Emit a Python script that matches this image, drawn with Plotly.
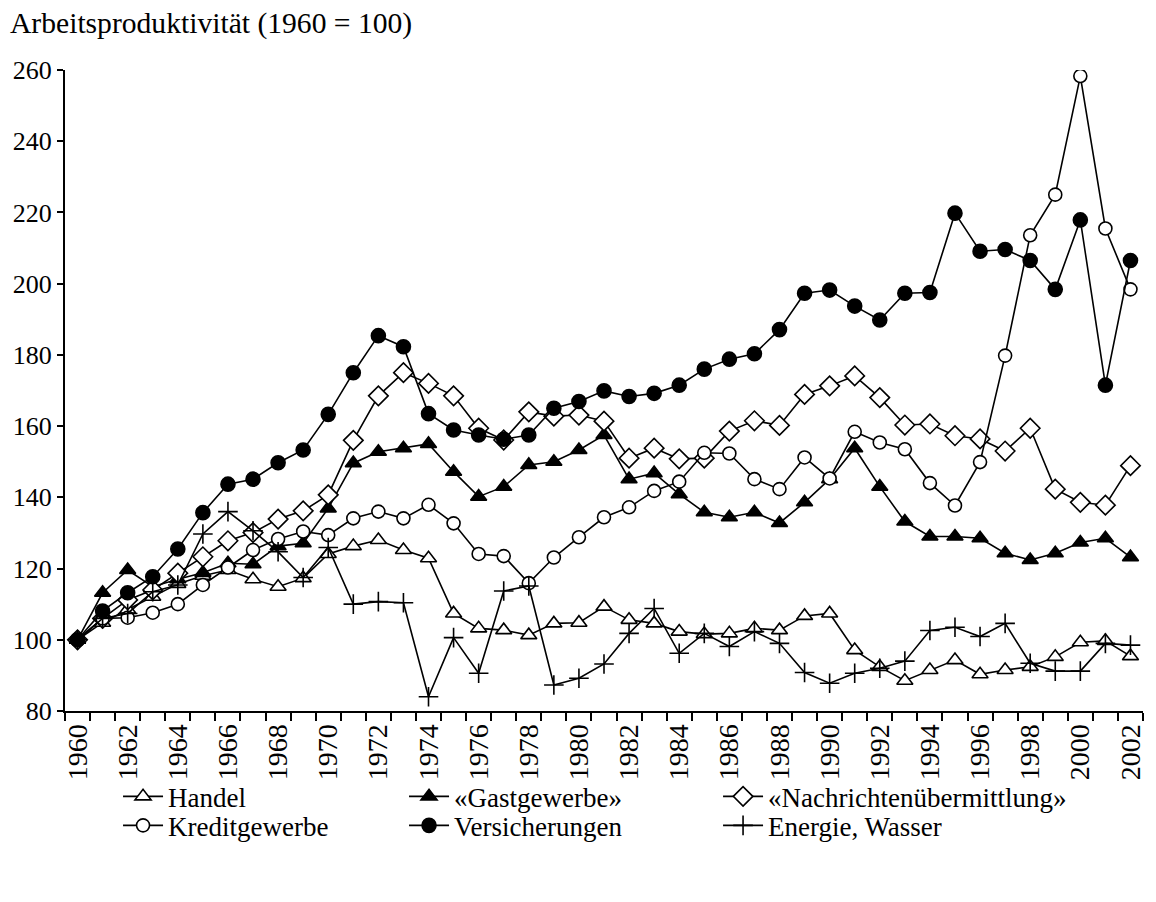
import plotly.graph_objects as go

# =========================
# Data
# =========================
years = list(range(1960, 2003))

handel = [100, 104.8, 108.5, 112.1, 115.7, 118.0, 119.6, 117.0, 114.9, 117.3,
          124.1, 126.3, 128.0, 125.2, 122.9, 107.4, 103.2, 102.7, 101.3, 104.6,
          104.8, 109.3, 105.6, 104.6, 102.3, 101.6, 101.8, 103.2, 102.7, 106.7,
          107.4, 97.1, 92.4, 88.5, 91.5, 94.3, 90.3, 91.5, 92.4, 95.2,
          99.3, 99.7, 95.4]

gastgewerbe = [100, 113.2, 119.6, 114.9, 117.0, 118.8, 121.5, 121.2, 126.3, 127.1,
               136.9, 149.6, 152.8, 153.8, 155.0, 147.2, 140.2, 143.0, 149.1, 150.0,
               153.3, 157.5, 145.1, 146.8, 140.9, 135.8, 134.4, 135.8, 132.8, 138.6,
               145.1, 153.8, 143.0, 133.2, 129.0, 129.0, 128.5, 124.3, 122.4, 124.3,
               127.3, 128.5, 123.2]

nachrichten = [100, 106.0, 111.2, 114.0, 118.7, 123.3, 127.8, 130.1, 133.9, 136.2,
               140.7, 156.0, 168.5, 175.0, 172.0, 168.5, 159.4, 156.1, 164.0, 162.8,
               163.1, 161.4, 151.0, 153.8, 150.8, 151.0, 158.6, 161.5, 160.2, 168.9,
               171.3, 174.1, 168.0, 160.3, 160.6, 157.3, 156.4, 153.0, 159.4, 142.3,
               138.6, 137.8, 148.9]

kredit = [100, 106.0, 106.2, 107.6, 110.0, 115.4, 120.3, 125.2, 128.3, 130.4,
          129.4, 134.1, 136.0, 134.1, 137.9, 132.7, 124.1, 123.5, 115.9, 123.1,
          128.8, 134.4, 137.2, 141.8, 144.4, 152.5, 152.3, 145.1, 142.3, 151.2,
          145.3, 158.4, 155.4, 153.5, 144.0, 137.7, 149.9, 179.8, 213.6, 225.0,
          258.3, 215.5, 198.4]

versicherungen = [100, 108.1, 113.2, 117.7, 125.5, 135.7, 143.7, 145.1, 149.7, 153.3,
                  163.3, 175.0, 185.4, 182.3, 163.5, 158.9, 157.5, 156.3, 157.5, 165.0,
                  166.9, 169.9, 168.3, 169.2, 171.5, 176.0, 178.8, 180.3, 187.1, 197.3,
                  198.2, 193.7, 189.8, 197.3, 197.5, 219.8, 209.1, 209.6, 206.5, 198.4,
                  217.9, 171.5, 206.5]

energie = [100, 106.0, 107.4, 113.5, 115.4, 129.7, 136.0, 130.6, 124.7, 117.5,
           125.9, 110.0, 110.7, 110.4, 84.0, 100.6, 90.6, 113.7, 115.1, 87.3,
           89.2, 93.2, 101.8, 108.8, 96.2, 101.8, 98.1, 102.3, 99.0, 90.8,
           87.8, 90.6, 92.0, 94.0, 102.6, 103.5, 100.9, 104.6, 93.4, 91.2,
           91.2, 99.0, 98.5]

tick_years = list(range(1960, 2003, 2))

# =========================
# Series styles: (name, values, symbol, fill, size, legend row, legend column)
# =========================
series = [
    ("Handel", handel, "triangle-up", "white", 14, "legend", 0),
    ("«Gastgewerbe»", gastgewerbe, "triangle-up", "black", 14, "legend", 1),
    ("«Nachrichtenübermittlung»", nachrichten, "diamond", "white", 15, "legend", 2),
    ("Kreditgewerbe", kredit, "circle", "white", 13, "legend2", 0),
    ("Versicherungen", versicherungen, "circle", "black", 14, "legend2", 1),
    ("Energie, Wasser", energie, "cross-thin", "black", 14, "legend2", 2),
]

# legend column widths as fraction of plot width
col_widths = [0.2653, 0.2913, 0.33]

fig = go.Figure()

for name, vals, symbol, fill, size, leg, col in series:
    fig.add_trace(go.Scatter(
        x=years,
        y=vals,
        name=name,
        mode="lines+markers",
        line=dict(color="black", width=1.6),
        marker=dict(symbol=symbol, size=size, color=fill,
                    line=dict(color="black", width=1.6)),
        legend=leg,
        legendwidth=col_widths[col],
    ))

# =========================
# Layout
# (page body adds 8px margin, so the figure is shifted by 8px and
#  sized to fit the window without scrolling)
# =========================
serif = "Liberation Serif"
W = 1140
H = 886


def legend_row(y):
    return dict(
        orientation="h",
        x=0.0492, xanchor="left",
        y=y, yanchor="top",
        entrywidthmode="fraction",
        bgcolor="rgba(0,0,0,0)",
        font=dict(family=serif, size=27, color="black"),
        itemwidth=40,
    )


fig.update_layout(
    width=W,
    height=H,
    paper_bgcolor="white",
    plot_bgcolor="white",
    font=dict(family=serif, size=27, color="black"),
    margin=dict(l=57, r=5, t=62, b=H - 703, autoexpand=False),
    title=dict(
        text="Arbeitsproduktivität (1960 = 100)",
        xref="container", yref="container",
        x=2 / W, xanchor="left",
        y=1 - 15 / H, yanchor="middle",
        font=dict(family=serif, size=29.6, color="black"),
    ),
    legend=legend_row(-0.0956),
    legend2=legend_row(-0.1409),
    showlegend=True,
)

fig.update_xaxes(
    range=[1959.5, 2002.5],
    tickvals=tick_years,
    ticktext=[str(y) for y in tick_years],
    tickangle=-90,
    ticks="",
    ticklabeloverflow="allow",
    showline=True, linecolor="black", linewidth=2,
    showgrid=False, zeroline=False,
    tickfont=dict(family=serif, size=28),
    minor=dict(tick0=1959.5, dtick=1, ticks="outside", ticklen=8,
               tickcolor="black", tickwidth=2, showgrid=False),
)

fig.update_yaxes(
    range=[80, 260],
    tickvals=list(range(80, 261, 20)),
    ticks="outside", ticklen=6, tickcolor="black", tickwidth=2,
    showline=True, linecolor="black", linewidth=2,
    showgrid=False, zeroline=False,
    tickfont=dict(family=serif, size=26),
)

fig.write_html("out.html")
